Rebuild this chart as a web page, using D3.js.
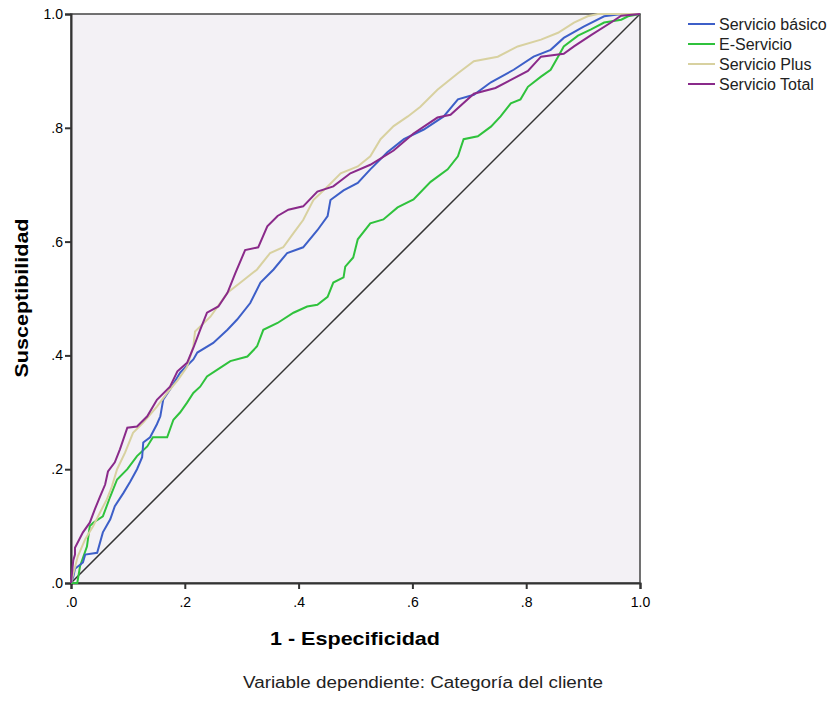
<!DOCTYPE html>
<html>
<head>
<meta charset="utf-8">
<script src="https://cdn.jsdelivr.net/npm/d3@7"></script>
<style>
    body { margin: 0; background: #ffffff; }
    text { font-family: Arial, "Liberation Sans", sans-serif; fill: #000; }
</style>
</head>
<body>
<div id="container"></div>
<script>
// ROC curves, one per service category: [1 - especificidad, susceptibilidad]
var seriesNames = ["Servicio básico", "E-Servicio", "Servicio Plus", "Servicio Total"];
var seriesColors = ["#3d5fc8", "#2fc23c", "#d8d1a0", "#8a2a8a"];

var basico = [
    [0, 0], [0.004, 0.011], [0.007, 0.025], [0.021, 0.036], [0.025, 0.05], [0.046, 0.053],
    [0.056, 0.089], [0.069, 0.112], [0.077, 0.135], [0.092, 0.158], [0.104, 0.178],
    [0.116, 0.2], [0.125, 0.221], [0.127, 0.247], [0.139, 0.256], [0.151, 0.279],
    [0.157, 0.293], [0.162, 0.322], [0.174, 0.34], [0.192, 0.37], [0.215, 0.393],
    [0.222, 0.405], [0.25, 0.422], [0.275, 0.445], [0.292, 0.463], [0.315, 0.492],
    [0.333, 0.528], [0.356, 0.551], [0.38, 0.58], [0.408, 0.59], [0.433, 0.62],
    [0.451, 0.645], [0.456, 0.673], [0.479, 0.69], [0.504, 0.703], [0.526, 0.727],
    [0.556, 0.757], [0.585, 0.78], [0.62, 0.797], [0.655, 0.82], [0.68, 0.85],
    [0.708, 0.858], [0.738, 0.88], [0.778, 0.902], [0.813, 0.925], [0.843, 0.937],
    [0.866, 0.958], [0.901, 0.978], [0.937, 0.996], [0.961, 0.999], [1, 1]
];

var eServicio = [
    [0, 0], [0.011, 0], [0.016, 0.03], [0.028, 0.064], [0.033, 0.1], [0.039, 0.106],
    [0.056, 0.117], [0.069, 0.152], [0.081, 0.182], [0.099, 0.2], [0.116, 0.223],
    [0.134, 0.24], [0.144, 0.256], [0.169, 0.256], [0.18, 0.287], [0.192, 0.3],
    [0.204, 0.317], [0.215, 0.334], [0.227, 0.345], [0.239, 0.363], [0.262, 0.378],
    [0.28, 0.39], [0.31, 0.398], [0.327, 0.416], [0.338, 0.445], [0.363, 0.457],
    [0.391, 0.475], [0.415, 0.486], [0.433, 0.489], [0.451, 0.503], [0.461, 0.528],
    [0.479, 0.537], [0.482, 0.556], [0.496, 0.572], [0.504, 0.604], [0.526, 0.632],
    [0.549, 0.639], [0.574, 0.66], [0.602, 0.674], [0.632, 0.705], [0.662, 0.727],
    [0.68, 0.75], [0.69, 0.78], [0.715, 0.785], [0.738, 0.802], [0.755, 0.82],
    [0.773, 0.843], [0.79, 0.85], [0.803, 0.872], [0.826, 0.89], [0.843, 0.902],
    [0.856, 0.925], [0.866, 0.943], [0.891, 0.962], [0.914, 0.973], [0.937, 0.985],
    [0.967, 0.99], [0.979, 0.996], [1, 1]
];

var plus = [
    [0, 0], [0.005, 0.02], [0.012, 0.047], [0.025, 0.077], [0.039, 0.1], [0.051, 0.124],
    [0.063, 0.147], [0.072, 0.17], [0.081, 0.2], [0.095, 0.229], [0.109, 0.264],
    [0.127, 0.282], [0.151, 0.31], [0.169, 0.334], [0.188, 0.357], [0.204, 0.38],
    [0.215, 0.416], [0.218, 0.442], [0.245, 0.468], [0.275, 0.51], [0.298, 0.528],
    [0.327, 0.551], [0.35, 0.58], [0.373, 0.59], [0.391, 0.615], [0.408, 0.638],
    [0.426, 0.673], [0.451, 0.697], [0.474, 0.72], [0.504, 0.732], [0.526, 0.75],
    [0.544, 0.78], [0.567, 0.803], [0.592, 0.82], [0.614, 0.837], [0.644, 0.867],
    [0.68, 0.896], [0.708, 0.917], [0.75, 0.925], [0.785, 0.943], [0.826, 0.955],
    [0.856, 0.967], [0.884, 0.985], [0.908, 0.996], [0.926, 1], [1, 1]
];

var total = [
    [0, 0], [0.004, 0.04], [0.007, 0.05], [0.007, 0.062], [0.021, 0.089], [0.033, 0.106],
    [0.042, 0.13], [0.051, 0.152], [0.06, 0.173], [0.065, 0.196], [0.077, 0.212],
    [0.086, 0.235], [0.099, 0.273], [0.116, 0.275], [0.134, 0.293], [0.151, 0.322],
    [0.174, 0.345], [0.187, 0.372], [0.204, 0.387], [0.215, 0.413], [0.227, 0.445],
    [0.239, 0.475], [0.259, 0.486], [0.275, 0.51], [0.289, 0.545], [0.306, 0.585],
    [0.329, 0.59], [0.345, 0.627], [0.363, 0.645], [0.382, 0.656], [0.408, 0.662],
    [0.433, 0.688], [0.461, 0.697], [0.491, 0.72], [0.526, 0.735], [0.567, 0.76],
    [0.602, 0.79], [0.644, 0.818], [0.667, 0.823], [0.708, 0.86], [0.746, 0.87],
    [0.803, 0.9], [0.826, 0.925], [0.866, 0.93], [0.884, 0.943], [0.914, 0.963],
    [0.949, 0.985], [0.967, 0.997], [1, 1]
];

var diagonal = [[0, 0], [1, 1]];
var tickValues = [0, 0.2, 0.4, 0.6, 0.8, 1.0];
var tickLabels = [".0", ".2", ".4", ".6", ".8", "1.0"];

var svgWidth = 830;
var svgHeight = 704;
var margin = { top: 14, left: 71 };
var width = 569, height = 569;

var svg = d3.select("div#container")
    .append("svg")
    .attr("width", svgWidth)
    .attr("height", svgHeight);

var g = svg.append("g")
    .attr("transform", "translate(" + margin.left + "," + margin.top + ")");

var x = d3.scaleLinear().domain([0, 1]).range([0, width]);
var y = d3.scaleLinear().domain([0, 1]).range([height, 0]);

// plot background + frame
g.append("rect")
    .attr("width", width)
    .attr("height", height)
    .attr("fill", "#f3f1f5")
    .attr("stroke", "#444")
    .attr("stroke-width", 1.5);

// axes
var fmt = function (d) { return tickLabels[tickValues.indexOf(d)]; };

var xAxis = g.append("g")
    .attr("transform", "translate(0," + height + ")")
    .call(d3.axisBottom(x).tickValues(tickValues).tickFormat(fmt).tickSizeOuter(0).tickSize(6).tickPadding(8));

var yAxis = g.append("g")
    .call(d3.axisLeft(y).tickValues(tickValues).tickFormat(fmt).tickSizeOuter(0).tickSize(6).tickPadding(2));

[xAxis, yAxis].forEach(function (a) {
    a.select(".domain").attr("stroke", "#333").attr("stroke-width", 2);
    a.selectAll(".tick line").attr("stroke", "#333").attr("stroke-width", 2);
    a.selectAll(".tick text")
        .style("font-family", "Arial")
        .style("font-size", "14px")
        .attr("fill", "#111");
});

// reference diagonal
var line = d3.line()
    .x(function (d) { return x(d[0]); })
    .y(function (d) { return y(d[1]); });

g.append("path")
    .datum(diagonal)
    .attr("d", line)
    .attr("fill", "none")
    .attr("stroke", "#333")
    .attr("stroke-width", 1.5);

// ROC curves (Total drawn last, on top)
var allSeries = [basico, eServicio, plus, total];
var drawOrder = [1, 0, 2, 3];
drawOrder.forEach(function (i) {
    g.append("path")
        .datum(allSeries[i])
        .attr("d", line)
        .attr("fill", "none")
        .attr("stroke", seriesColors[i])
        .attr("stroke-width", 2)
        .attr("stroke-linejoin", "miter");
});

// axis titles
svg.append("text")
    .attr("x", 355)
    .attr("y", 645)
    .attr("text-anchor", "middle")
    .attr("textLength", 170)
    .attr("lengthAdjust", "spacingAndGlyphs")
    .style("font-size", "19px")
    .style("font-weight", "bold")
    .text("1 - Especificidad");

svg.append("text")
    .attr("transform", "translate(28,298) rotate(-90)")
    .attr("text-anchor", "middle")
    .attr("textLength", 159)
    .attr("lengthAdjust", "spacingAndGlyphs")
    .style("font-size", "19px")
    .style("font-weight", "bold")
    .text("Susceptibilidad");

svg.append("text")
    .attr("x", 423)
    .attr("y", 688)
    .attr("text-anchor", "middle")
    .attr("textLength", 360)
    .attr("lengthAdjust", "spacingAndGlyphs")
    .style("font-size", "16px")
    .style("fill", "#222")
    .text("Variable dependiente: Categoría del cliente");

// legend
var legend = svg.selectAll("legendItems")
    .data(seriesNames)
    .enter()
    .append("g")
    .attr("transform", function (d, i) { return "translate(688," + (24 + i * 20) + ")"; });

legend.append("line")
    .attr("x1", 0).attr("x2", 27)
    .attr("stroke", function (d, i) { return seriesColors[i]; })
    .attr("stroke-width", 2);

legend.append("text")
    .attr("x", 31)
    .attr("y", 5.5)
    .style("font-size", "16px")
    .style("fill", "#222")
    .text(function (d) { return d; });
</script>
</body>
</html>
